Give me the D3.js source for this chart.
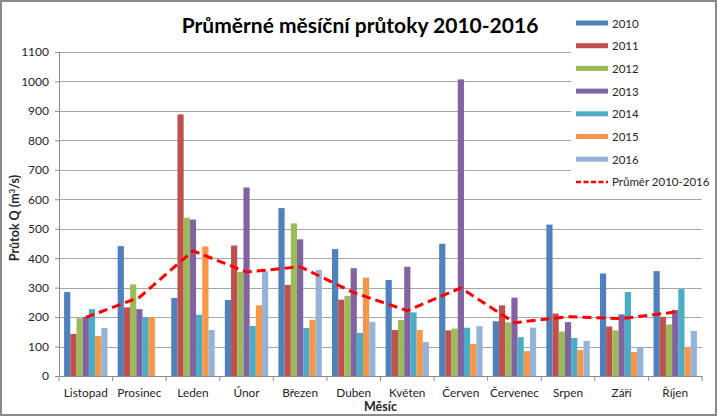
<!DOCTYPE html>
<html>
<head>
<meta charset="utf-8">
<script src="https://cdn.jsdelivr.net/npm/d3@7"></script>
<style>
  body { margin: 0; background: #fff; }
  text { font-family: Lato, "Liberation Sans", sans-serif; fill: #262626; }
</style>
</head>
<body>
<div id="chart"></div>
<script>
// prumerne mesicni prutoky
var months = ["Listopad", "Prosinec", "Leden", "Únor", "Březen", "Duben", "Květen", "Červen", "Červenec", "Srpen", "Září", "Říjen"];
var years = ["2010", "2011", "2012", "2013", "2014", "2015", "2016"];
var q2010 = [285, 441, 265, 258, 570, 431, 326, 449, 186, 514, 348, 356];
var q2011 = [143, 233, 888, 443, 309, 259, 156, 155, 240, 212, 168, 201];
var q2012 = [196, 311, 537, 353, 518, 272, 190, 161, 182, 151, 155, 175];
var q2013 = [201, 227, 531, 640, 464, 366, 371, 1007, 266, 183, 209, 224];
var q2014 = [227, 200, 208, 170, 163, 146, 216, 164, 132, 129, 285, 295];
var q2015 = [136, 200, 440, 240, 191, 334, 156, 109, 84, 88, 81, 99];
var q2016 = [163, 0, 156, 355, 360, 184, 115, 169, 164, 119, 97, 153];
var prumer = [199, 267, 425, 353, 371, 283, 222, 299, 181, 201, 195, 217];
var yTicks = [0, 100, 200, 300, 400, 500, 600, 700, 800, 900, 1000, 1100];
var avgLabel = "Průměr 2010-2016";

var series = [q2010, q2011, q2012, q2013, q2014, q2015, q2016];
var colors = ["#4f81bd", "#c0504d", "#9bbb59", "#8064a2", "#4bacc6", "#f79646", "#95b3d7"];

var fullWidth = 717, fullHeight = 416;
var margin = {top: 52, right: 15, bottom: 40, left: 59};
var width = fullWidth - margin.left - margin.right;
var height = fullHeight - margin.top - margin.bottom;

var svg = d3.select("#chart").append("svg")
  .attr("width", fullWidth)
  .attr("height", fullHeight);

// ramecek
svg.append("rect")
  .attr("x", 1).attr("y", 1)
  .attr("width", fullWidth - 2).attr("height", fullHeight - 2)
  .attr("fill", "#fff")
  .attr("stroke", "#8a8a8a")
  .attr("stroke-width", 2);

var g = svg.append("g")
  .attr("transform", "translate(" + margin.left + "," + margin.top + ")");

// scales
var x0 = d3.scaleBand().domain(months).range([0, width]).padding(0);
var gap = x0.bandwidth() * 0.095;
var x1 = d3.scaleBand().domain(years).range([gap, x0.bandwidth() - gap]).padding(0);
var y = d3.scaleLinear().domain([0, 1100]).range([height, 0]);
var color = d3.scaleOrdinal().domain(years).range(colors);

// gridlines
g.append("g").selectAll("line")
  .data(yTicks.slice(1))
  .enter().append("line")
  .attr("x1", 0).attr("x2", width)
  .attr("y1", function(d) { return Math.round(y(d)) + 0.5; })
  .attr("y2", function(d) { return Math.round(y(d)) + 0.5; })
  .attr("stroke", "#a6a6a6")
  .attr("stroke-width", 1);

// bars
var groups = g.append("g").selectAll("g")
  .data(months)
  .enter().append("g")
  .attr("transform", function(m) { return "translate(" + x0(m) + ",0)"; });

groups.selectAll("rect")
  .data(function(m, i) {
    return years.map(function(yr, k) { return {year: yr, value: series[k][i]}; });
  })
  .enter().append("rect")
  .attr("x", function(d) { return x1(d.year); })
  .attr("width", x1.bandwidth())
  .attr("y", function(d) { return y(d.value); })
  .attr("height", function(d) { return height - y(d.value); })
  .attr("fill", function(d) { return color(d.year); });

// prumer
var line = d3.line()
  .x(function(d, i) { return x0(months[i]) + x0.bandwidth() / 2; })
  .y(function(d) { return y(d); });

g.append("path")
  .datum(prumer)
  .attr("d", line)
  .attr("fill", "none")
  .attr("stroke", "#ff0000")
  .attr("stroke-width", 3)
  .attr("stroke-dasharray", "9,5");

// y axis
var yAxis = g.append("g")
  .call(d3.axisLeft(y).tickValues(yTicks).tickFormat(d3.format("d")).tickSize(4).tickPadding(6));
yAxis.selectAll("text").style("font-size", "12px");
yAxis.selectAll("line, path").attr("stroke", "#8c8c8c");
yAxis.select(".domain").attr("d", "M0.5," + height + "V0");

// x axis
var xAxis = g.append("g")
  .attr("transform", "translate(0," + height + ")")
  .call(d3.axisBottom(x0).tickSize(0).tickPadding(13));
xAxis.selectAll("text").style("font-size", "11.8px");
xAxis.select(".domain").attr("stroke", "#8c8c8c");
xAxis.selectAll(".bound")
  .data(months.concat(["end"]))
  .enter().append("line")
  .attr("class", "bound")
  .attr("x1", function(m) { return m === "end" ? width : x0(m); })
  .attr("x2", function(m) { return m === "end" ? width : x0(m); })
  .attr("y1", 0).attr("y2", 5)
  .attr("stroke", "#8c8c8c");

// popisky os
svg.append("text")
  .attr("x", margin.left + width / 2)
  .attr("y", 411)
  .attr("text-anchor", "middle")
  .style("font-size", "12.5px")
  .style("font-weight", "bold")
  .text("Měsíc");

svg.append("text")
  .attr("transform", "translate(19," + (margin.top + height / 2 + 4) + ") rotate(-90)")
  .attr("text-anchor", "middle")
  .style("font-size", "12.5px")
  .style("font-weight", "bold")
  .html("Průtok Q (m<tspan dy='-4' style='font-size:8px'>3</tspan><tspan dy='4'>/s)</tspan>");

// nadpis
svg.append("text")
  .attr("x", 360)
  .attr("y", 33)
  .attr("text-anchor", "middle")
  .style("font-size", "21px")
  .style("font-weight", "bold")
  .style("fill", "#000")
  .text("Průměrné měsíční průtoky 2010-2016");

// legenda
var legend = svg.append("g").attr("transform", "translate(571,9)");
legend.append("rect")
  .attr("width", 143).attr("height", 186)
  .attr("fill", "#fff");

var rowH = 22.7;
var items = legend.selectAll(".item")
  .data(years)
  .enter().append("g")
  .attr("transform", function(d, i) { return "translate(0," + (14 + i * rowH) + ")"; });
items.append("rect")
  .attr("x", 5).attr("y", -2.5)
  .attr("width", 32).attr("height", 5)
  .attr("fill", function(d) { return color(d); });
items.append("text")
  .attr("x", 41).attr("y", 4.5)
  .style("font-size", "11.5px")
  .text(function(d) { return d; });

var avgRow = legend.append("g")
  .attr("transform", "translate(0," + (14 + years.length * rowH) + ")");
avgRow.append("line")
  .attr("x1", 5).attr("x2", 37)
  .attr("stroke", "#ff0000")
  .attr("stroke-width", 2.5)
  .attr("stroke-dasharray", "5,2.5");
avgRow.append("text")
  .attr("x", 41).attr("y", 4.5)
  .style("font-size", "11.5px")
  .text(avgLabel);
</script>
</body>
</html>
